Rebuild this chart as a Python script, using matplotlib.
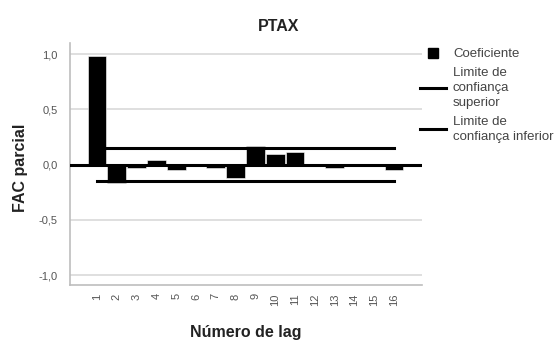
import matplotlib
matplotlib.use("Agg")
import matplotlib.pyplot as plt
from matplotlib.lines import Line2D

lags = list(range(1, 17))
pacf = [0.98, -0.17, -0.03, 0.04, -0.05, -0.01, -0.03, -0.12,
        0.165, 0.10, 0.11, 0.00, -0.03, 0.00, 0.00, -0.05]
upper_limit = 0.153
lower_limit = -0.153
yticks = [-1.0, -0.5, 0.0, 0.5, 1.0]

plt.rcParams['font.family'] = ['Liberation Sans', 'DejaVu Sans']

fig = plt.figure(figsize=(5.58, 3.42), dpi=100)
ax = fig.add_axes([70 / 558, 57 / 342, 352 / 558, 242 / 342])

# grid and frame
for y in yticks:
    ax.axhline(y, color='#d9d9d9', lw=1.2, zorder=0)
for side in ['top', 'right']:
    ax.spines[side].set_visible(False)
for side in ['left', 'bottom']:
    ax.spines[side].set_color('#bdbdbd')
    ax.spines[side].set_linewidth(1.2)

ax.bar(lags, pacf, width=0.95, color='black', edgecolor='white',
       linewidth=0.4, zorder=2)
ax.axhline(0, color='black', lw=2.2, zorder=3)
ax.plot([lags[0], lags[-1]], [upper_limit, upper_limit], color='black',
        lw=2.2, zorder=3)
ax.plot([lags[0], lags[-1]], [lower_limit, lower_limit], color='black',
        lw=2.2, zorder=3)

ax.set_xlim(-0.36, 17.41)
ax.set_ylim(-1.09, 1.10)
ax.set_xticks(lags)
ax.set_xticklabels([str(l) for l in lags], rotation=90)
ax.set_yticks(yticks)
ax.set_yticklabels([f"{v:.1f}".replace('.', ',') for v in yticks])
ax.tick_params(axis='both', length=0, labelsize=8, labelcolor='#555555')
ax.tick_params(axis='x', pad=6)
ax.tick_params(axis='y', pad=9)

fig.text(0.5, 1 - 26.5 / 342, 'PTAX', ha='center', va='center',
         fontsize=11.5, fontweight='bold', color='#222222')
fig.text(21 / 558, 1 - 168 / 342, 'FAC parcial', ha='center', va='center',
         rotation=90, fontsize=11.5, fontweight='bold', color='#222222')
fig.text(246 / 558, 1 - 332 / 342, 'Número de lag', ha='center',
         va='center', fontsize=11.5, fontweight='bold', color='#222222')

handles = [
    Line2D([], [], marker='s', color='black', linestyle='none', markersize=7),
    Line2D([], [], color='black', lw=2.2),
    Line2D([], [], color='black', lw=2.2),
]
labels = ['Coeficiente', 'Limite de\nconfiança\nsuperior',
          'Limite de\nconfiança inferior']
leg = fig.legend(handles, labels, loc='upper left',
                 bbox_to_anchor=(420 / 558, 1 - 48 / 342), frameon=False,
                 fontsize=9.5, handlelength=2.0, handletextpad=0.5,
                 labelspacing=0.55, borderpad=0, borderaxespad=0)
for t in leg.get_texts():
    t.set_color('#444444')
    t.set_linespacing(1.3)

fig.savefig('out.png', dpi=100)
